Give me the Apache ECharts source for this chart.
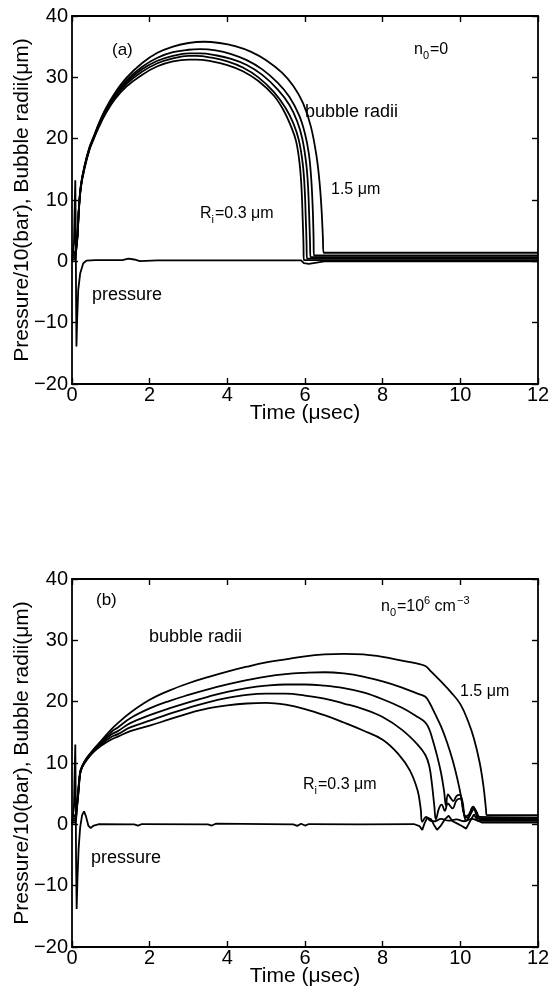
<!DOCTYPE html>
<html><head><meta charset="utf-8">
<script src="https://cdn.jsdelivr.net/npm/echarts@6/dist/echarts.min.js"></script>
<style>html,body{margin:0;padding:0;background:#fff}#c{width:550px;height:994px}</style>
</head><body><div id="c"></div><script>
// ---- tick values ----
const xTicks = [0, 2, 4, 6, 8, 10, 12];
const yTicks = [-20, -10, 0, 10, 20, 30, 40];
const xAxisTitle = 'Time (\u03bcsec)';
const yAxisTitle = 'Pressure/10(bar), Bubble radii(\u03bcm)';

// ---- panel (a): n0 = 0 ----  [time (usec), value]
const aR15 = [[0,1.5],[0.07,1.5],[0.1,2.2],[0.14,4.5],[0.18,9],[0.23,12.5],[0.32,15.5],[0.45,18.6],[0.55,20.2],[0.7,22.6],[0.86,24.8],[1.1,27.4],[1.4,29.9],[1.8,32.3],[2.2,34],[2.6,35],[3.0,35.6],[3.4,35.8],[3.8,35.6],[4.2,35.1],[4.6,34.2],[5.0,32.8],[5.4,30.8],[5.7,28.6],[5.95,25.8],[6.15,22],[6.3,17],[6.38,12.5],[6.43,8],[6.46,4],[6.48,1.4],[12,1.4]];
const aR12 = [[0,1.2],[0.07,1.2],[0.1,1.9],[0.14,4.3],[0.18,8.9],[0.23,12.4],[0.32,15.4],[0.45,18.5],[0.55,20.1],[0.7,22.5],[0.86,24.6],[1.1,27.1],[1.4,29.5],[1.8,31.7],[2.2,33.2],[2.6,34.1],[3.0,34.5],[3.3,34.6],[3.7,34.4],[4.1,33.8],[4.5,32.8],[4.9,31.3],[5.3,29.1],[5.6,26.8],[5.85,23.8],[6.0,20.8],[6.1,17.5],[6.16,13.5],[6.2,8.5],[6.22,4],[6.23,0.95],[12,0.95]];
const aR09 = [[0,0.9],[0.07,0.9],[0.1,1.7],[0.14,4.1],[0.18,8.8],[0.23,12.3],[0.32,15.3],[0.45,18.4],[0.55,20],[0.7,22.3],[0.86,24.4],[1.1,26.9],[1.4,29.2],[1.8,31.3],[2.2,32.7],[2.6,33.5],[3.0,33.9],[3.3,33.9],[3.7,33.6],[4.1,33],[4.5,32],[4.9,30.4],[5.3,28],[5.6,25.5],[5.8,22.8],[5.93,20],[6.03,16],[6.08,12],[6.11,7],[6.13,3],[6.14,0.7],[12,0.7]];
const aR06 = [[0,0.6],[0.07,0.6],[0.1,1.5],[0.14,4],[0.18,8.7],[0.23,12.2],[0.32,15.2],[0.45,18.3],[0.55,19.9],[0.7,22.2],[0.86,24.2],[1.1,26.7],[1.4,28.9],[1.8,30.9],[2.2,32.3],[2.6,33.1],[3.0,33.5],[3.2,33.5],[3.6,33.2],[4.0,32.6],[4.4,31.6],[4.8,30],[5.2,27.6],[5.5,25],[5.7,22.5],[5.84,19.8],[5.94,16],[5.99,12],[6.02,7],[6.04,3],[6.05,0.45],[12,0.45]];
const aR03 = [[0,0.3],[0.07,0.3],[0.1,1.3],[0.14,3.8],[0.18,8.6],[0.23,12.1],[0.32,15.1],[0.45,18.2],[0.55,19.8],[0.7,22],[0.86,24],[1.1,26.4],[1.4,28.5],[1.8,30.4],[2.2,31.8],[2.6,32.6],[3.0,32.9],[3.2,32.9],[3.6,32.6],[4.0,32],[4.4,31],[4.8,29.4],[5.2,27],[5.45,24.6],[5.64,22],[5.77,19.6],[5.86,16],[5.91,12],[5.94,7],[5.96,3],[5.97,0.2],[12,0.2]];
const aPressure = [[0,0],[0.03,0.3],[0.05,3],[0.07,9],[0.085,13.2],[0.095,6],[0.105,-6],[0.115,-13.9],[0.13,-10],[0.16,-4.7],[0.21,-2],[0.29,-0.3],[0.37,0.1],[0.6,0.2],[1.3,0.2],[1.45,0.45],[1.6,0.3],[1.75,0.05],[2.2,0.15],[5.9,0.15],[5.97,-0.3],[6.1,-0.4],[6.3,-0.2],[6.5,0],[12,0]];

// ---- panel (b): n0 = 10^6 cm^-3 ----
const bR15 = [[0,1.5],[0.08,1.5],[0.12,3],[0.16,5.5],[0.21,8.5],[0.27,9.6],[0.38,10.8],[0.54,12.1],[0.75,13.6],[1.0,15.4],[1.18,16.5],[1.5,18.2],[2,20.3],[2.5,21.8],[3,23],[3.5,24],[4,24.9],[4.5,25.7],[5,26.4],[5.5,26.9],[6,27.4],[6.5,27.7],[7,27.8],[7.5,27.7],[8,27.3],[8.5,26.7],[8.9,26.2],[9.1,25.8],[9.25,24.9],[9.5,23.3],[9.75,21.6],[10.0,19.6],[10.2,16.8],[10.35,14],[10.5,10],[10.6,6],[10.66,2.5],[10.68,1.5],[12,1.5]];
const bR12 = [[0,1.2],[0.08,1.2],[0.12,2.8],[0.16,5.3],[0.21,8.5],[0.27,9.6],[0.38,10.8],[0.54,12],[0.75,13.4],[1.0,15],[1.18,15.8],[1.5,17.3],[2,18.9],[2.5,20.1],[3,21.1],[3.5,22],[4,22.8],[4.5,23.5],[5,24.1],[5.5,24.5],[6,24.7],[6.5,24.8],[7,24.6],[7.5,24.1],[8,23.3],[8.5,22.3],[8.9,21.3],[9.1,20.8],[9.2,19.9],[9.35,18],[9.5,16],[9.65,13.5],[9.8,10.5],[9.92,7.5],[10.02,4.5],[10.08,2],[10.14,1.3],[10.22,1.6],[10.33,2.9],[10.42,2.0],[10.5,1.2],[12,1.15]];
const bR09 = [[0,0.9],[0.08,0.9],[0.12,2.6],[0.16,5.1],[0.21,8.4],[0.27,9.5],[0.38,10.7],[0.54,11.9],[0.75,13.2],[1.0,14.6],[1.18,15.2],[1.5,16.5],[2,17.8],[2.5,18.9],[3,19.9],[3.5,20.8],[4,21.6],[4.5,22.2],[5,22.6],[5.5,22.8],[6,22.8],[6.5,22.6],[7,22.2],[7.5,21.5],[8,20.4],[8.5,19],[8.9,17.5],[9.1,16.6],[9.2,15.5],[9.3,13.5],[9.4,11.2],[9.5,8.5],[9.58,5.5],[9.63,3],[9.68,4.9],[9.76,4.2],[9.82,3.8],[9.9,4.6],[9.98,4.8],[10.06,3.6],[10.12,1.2],[10.2,1.1],[10.32,2.7],[10.4,2.2],[10.48,1.0],[12,0.95]];
const bR06 = [[0,0.6],[0.08,0.6],[0.12,2.4],[0.16,4.9],[0.21,8.3],[0.27,9.5],[0.38,10.6],[0.54,11.8],[0.75,13],[1.0,14.2],[1.18,14.7],[1.5,15.8],[2,16.9],[2.5,18],[3,19],[3.5,19.9],[4,20.6],[4.5,21.1],[5,21.3],[5.5,21.3],[6,21],[6.5,20.5],[7,19.7],[7.5,18.8],[8,17.5],[8.5,15.4],[8.9,13],[9.1,11.3],[9.2,9.5],[9.27,6.5],[9.33,3],[9.37,0.8],[9.45,2.6],[9.52,3.2],[9.6,2.2],[9.68,3.4],[9.8,2.6],[9.9,3.9],[10.0,4.2],[10.08,2.2],[10.15,0.6],[10.25,1.5],[10.35,2.5],[10.42,1.4],[10.5,0.8],[12,0.75]];
const bR03 = [[0,0.3],[0.08,0.3],[0.12,2.2],[0.16,4.7],[0.21,8.2],[0.27,9.4],[0.38,10.5],[0.54,11.7],[0.75,12.8],[1.0,13.8],[1.18,14.3],[1.5,15.2],[2,16.1],[2.5,17.1],[3,18.1],[3.5,18.9],[4,19.4],[4.5,19.7],[5,19.8],[5.5,19.5],[6,18.8],[6.5,17.8],[7,16.6],[7.5,15.3],[8,13.8],[8.4,11.5],[8.7,8.8],[8.9,5.5],[8.98,2.5],[9.02,0.4],[9.12,1.2],[9.22,0.6],[9.35,0.5],[9.5,0.9],[9.7,0.6],[9.9,0.8],[10.1,0.5],[10.3,0.9],[10.5,0.55],[12,0.55]];
const bPressure = [[0,0],[0.03,0.3],[0.05,3],[0.07,9],[0.085,13],[0.095,5],[0.105,-6],[0.12,-13.8],[0.14,-9],[0.17,-4],[0.21,-0.5],[0.26,1.5],[0.31,2.1],[0.36,1.3],[0.42,-0.2],[0.48,-0.6],[0.56,-0.2],[0.7,0.05],[1.6,0],[1.7,-0.2],[1.8,0.05],[3.5,0],[3.6,-0.2],[3.7,0.1],[5.7,0],[5.8,-0.25],[5.9,0.1],[6.0,-0.2],[6.1,0.05],[7.4,0],[8.8,0.05],[8.95,-0.3],[9.02,-0.9],[9.08,0.2],[9.15,1.1],[9.25,0.8],[9.33,-0.2],[9.4,-0.9],[9.5,-0.2],[9.6,0.8],[9.7,1.4],[9.8,0.5],[9.9,0.2],[10.05,-0.3],[10.15,-0.7],[10.25,0.5],[10.35,1.6],[10.45,0.6],[10.55,0.3],[12,0.3]];

const panelA = { radii: [aR15, aR12, aR09, aR06, aR03], pressure: aPressure };
const panelB = { radii: [bR15, bR12, bR09, bR06, bR03], pressure: bPressure };

// ---- chart ----
const FONT = "'Liberation Sans', Arial, Helvetica, sans-serif";
const chart = echarts.init(document.getElementById('c'), null, { renderer: 'canvas' });

const gridsPx = [
  { left: 72, top: 16, width: 466, height: 368 },
  { left: 72, top: 579, width: 466, height: 368 }
];
const fmtMinus = v => String(v).replace('-', '\u2212');
const lineCol = '#000';

function xAx(grid, top) {
  return {
    type: 'value', gridIndex: grid, position: top ? 'top' : 'bottom',
    min: xTicks[0], max: xTicks[xTicks.length - 1], interval: xTicks[1] - xTicks[0],
    splitLine: { show: false },
    axisLine: { show: true, onZero: false, lineStyle: { color: lineCol, width: 1.8 } },
    axisTick: { show: true, inside: true, length: 6, lineStyle: { color: lineCol, width: 1.4 } },
    axisLabel: { show: !top, margin: 1, color: '#000', fontSize: 20, fontFamily: FONT, formatter: fmtMinus },
    name: top ? '' : xAxisTitle, nameLocation: 'middle', nameGap: 19, nameMoveOverlap: false,
    nameTextStyle: { color: '#000', fontSize: 21, fontFamily: FONT }
  };
}
function yAx(grid, right) {
  return {
    type: 'value', gridIndex: grid, position: right ? 'right' : 'left',
    min: yTicks[0], max: yTicks[yTicks.length - 1], interval: yTicks[1] - yTicks[0],
    splitLine: { show: false },
    axisLine: { show: true, onZero: false, lineStyle: { color: lineCol, width: 1.8 } },
    axisTick: { show: true, inside: true, length: 6, lineStyle: { color: lineCol, width: 1.4 } },
    axisLabel: { show: !right, margin: 4, color: '#000', fontSize: 20, fontFamily: FONT, formatter: fmtMinus },
    name: right ? '' : yAxisTitle, nameLocation: 'middle', nameGap: 39, nameRotate: 90, nameMoveOverlap: false,
    nameTextStyle: { color: '#000', fontSize: 21, fontFamily: FONT }
  };
}

function mkSeries(data, idx, smooth) {
  return {
    type: 'line', xAxisIndex: idx, yAxisIndex: idx, data: data,
    showSymbol: false, symbol: 'none', smooth: smooth,
    lineStyle: { color: '#000', width: 1.8 }, silent: true, animation: false, clip: true
  };
}

const series = [];
[panelA, panelB].forEach((p, i) => {
  const idx = i * 2;
  p.radii.forEach(d => series.push(mkSeries(d, idx, 0.4)));
  series.push(mkSeries(p.pressure, idx, false));
});

// annotations (text)
const TXT = [];
function t(x, y, s, size) {
  TXT.push({ type: 'text', x: x, y: y, silent: true, z: 50,
    style: { text: s, fill: '#000', font: size + 'px ' + FONT, textVerticalAlign: 'middle', textAlign: 'left' } });
}
// panel a
t(112, 50, '(a)', 17);
t(414, 50, 'n', 16); t(423, 56, '0', 11); t(430, 50, '=0', 16);
t(305, 112, 'bubble radii', 18);
t(331, 190, '1.5 \u03bcm', 16);
t(200, 214, 'R', 16); t(211.5, 220, 'i', 11); t(215, 214, '=0.3 \u03bcm', 16);
t(92, 295, 'pressure', 18);
// panel b
t(96, 600, '(b)', 17);
t(381, 607, 'n', 16); t(390, 613, '0', 11); t(397, 607, '=10', 16); t(424, 601, '6', 11); t(430, 607, ' cm', 16); t(457, 601, '\u22123', 11);
t(149, 637, 'bubble radii', 18);
t(460, 692, '1.5 \u03bcm', 16);
t(303, 785, 'R', 16); t(314.5, 791, 'i', 11); t(318, 785, '=0.3 \u03bcm', 16);
t(91, 858, 'pressure', 18);

chart.setOption({
  animation: false,
  backgroundColor: '#fff',
  grid: gridsPx.map(g => Object.assign({ containLabel: false, outerBoundsMode: 'none', show: false }, g)),
  xAxis: [xAx(0, false), xAx(0, true), xAx(1, false), xAx(1, true)],
  yAxis: [yAx(0, false), yAx(0, true), yAx(1, false), yAx(1, true)],
  series: series,
  graphic: TXT
});
</script></body></html>
